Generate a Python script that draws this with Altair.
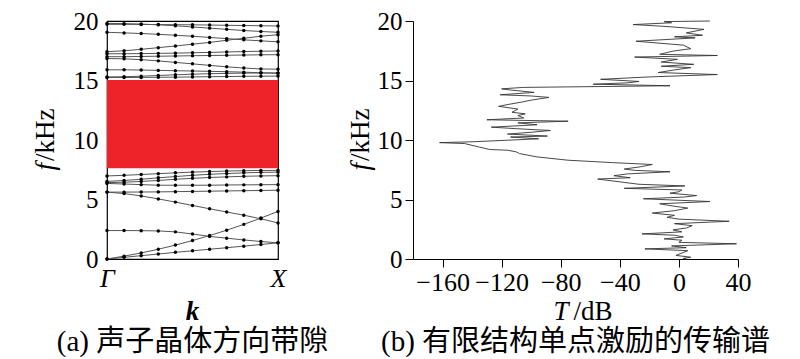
import altair as alt
import pandas as pd

# ---------------- data: (a) band structure ----------------
k_points = [0.0, 0.1, 0.2, 0.3, 0.4, 0.5, 0.6, 0.7, 0.8, 0.9, 1.0]

band_01 = [0.00, 0.14, 0.28, 0.42, 0.56, 0.69, 0.82, 0.95, 1.08, 1.22, 1.36]
band_02 = [0.00, 0.24, 0.51, 0.82, 1.17, 1.55, 1.97, 2.42, 2.91, 3.44, 4.00]
band_03 = [2.39, 2.39, 2.38, 2.36, 2.28, 2.10, 1.90, 1.75, 1.60, 1.47, 1.36]
band_04 = [5.62, 5.50, 5.30, 5.05, 4.78, 4.50, 4.22, 3.95, 3.68, 3.38, 3.03]
band_05 = [5.62, 5.62, 5.63, 5.64, 5.66, 5.68, 5.70, 5.72, 5.74, 5.76, 5.78]
band_06 = [6.35, 6.30, 6.25, 6.20, 6.20, 6.20, 6.20, 6.22, 6.23, 6.24, 6.25]
band_07 = [6.42, 6.45, 6.52, 6.60, 6.70, 6.78, 6.85, 6.90, 6.95, 6.98, 7.00]
band_08 = [6.52, 6.60, 6.70, 6.82, 6.93, 7.03, 7.12, 7.18, 7.24, 7.28, 7.30]
band_09 = [6.98, 7.03, 7.10, 7.17, 7.24, 7.30, 7.35, 7.39, 7.42, 7.44, 7.45]
band_10 = [15.25, 15.25, 15.26, 15.27, 15.28, 15.30, 15.32, 15.33, 15.35, 15.36, 15.37]
band_11 = [15.30, 15.32, 15.36, 15.42, 15.48, 15.53, 15.57, 15.60, 15.62, 15.63, 15.64]
band_12 = [15.90, 15.90, 15.88, 15.85, 15.82, 15.80, 15.77, 15.74, 15.70, 15.65, 15.60]
band_13 = [16.85, 16.82, 16.75, 16.65, 16.52, 16.40, 16.27, 16.15, 16.05, 15.97, 15.95]
band_14 = [17.00, 17.00, 17.02, 17.04, 17.06, 17.08, 17.10, 17.12, 17.14, 17.16, 17.17]
band_15 = [17.25, 17.25, 17.26, 17.28, 17.30, 17.33, 17.36, 17.40, 17.43, 17.46, 17.48]
band_16 = [17.42, 17.50, 17.62, 17.76, 17.90, 18.05, 18.20, 18.38, 18.55, 18.72, 18.85]
band_17 = [19.05, 19.00, 18.95, 18.88, 18.80, 18.72, 18.62, 18.52, 18.42, 18.33, 18.25]
band_18 = [19.72, 19.72, 19.71, 19.70, 19.69, 19.68, 19.66, 19.64, 19.62, 19.60, 19.58]
band_19 = [19.80, 19.78, 19.74, 19.68, 19.60, 19.50, 19.40, 19.30, 19.20, 19.12, 19.05]

bands = [band_01, band_02, band_03, band_04, band_05, band_06, band_07, band_08,
         band_09, band_10, band_11, band_12, band_13, band_14, band_15, band_16,
         band_17, band_18, band_19]

gap_low = 7.62
gap_high = 15.05

k_ticks = [0, 1]
k_labels = ["Γ", "X"]
f_ticks = [0, 5, 10, 15, 20]

# ---------------- data: (b) transmission spectrum ----------------
f_vals = [0.00, 0.05, 0.15, 0.30, 0.50, 0.70, 0.85, 0.95, 1.10, 1.28, 1.40, 1.58, 1.69,
          1.85, 2.00, 2.11, 2.28, 2.45, 2.60, 2.80, 2.97, 3.17, 3.35, 3.50, 3.67, 3.86,
          4.06, 4.28, 4.45, 4.64, 4.83, 5.06, 5.20, 5.33, 5.53, 5.65, 5.80, 5.94, 6.14,
          6.28, 6.45, 6.72, 6.83, 7.00, 7.15, 7.33, 7.45, 7.56, 7.75, 7.94, 8.10, 8.30,
          8.58, 8.86, 9.00, 9.14, 9.20, 9.40, 9.70, 9.78, 9.85, 9.97, 10.10, 10.25,
          10.33, 10.50, 10.65, 10.80, 10.95, 11.08, 11.28, 11.44, 11.58, 11.70, 11.85,
          12.06, 12.20, 12.33, 12.60, 12.83, 13.00, 13.17, 13.35, 13.58, 13.70, 13.80,
          14.00, 14.20, 14.30, 14.42, 14.56, 14.69, 14.80, 14.92, 15.10, 15.30, 15.50,
          15.67, 15.89, 16.08, 16.20, 16.36, 16.55, 16.78, 16.97, 17.10, 17.20, 17.47,
          17.67, 17.97, 18.30, 18.58, 18.67, 18.80, 19.00, 19.30, 19.56, 19.70, 19.85,
          19.95, 20.00]
T_vals = [5, 3, 8, -2, 2, 6, -23, 5, -5, 39, 0, 2, -10,
          3, -3, -25, 2, -4, 5, 9, -3, 34, 0, -8, -3, -18,
          -3, 6, -4, -13, 21, -24, 3, 12, -6, 0, 2, -37, 4,
          -27, -38, -55, -33, -44, -35, -6, -30, -37, -26, -18, -45, -75,
          -96, -108, -110, -116, -128, -135, -145, -162, -140, -118, -95, -114,
          -89, -116, -100, -87, -110, -127, -96, -109, -75, -130, -105,
          -109, -104, -113, -109, -122, -115, -107, -100, -88, -100, -121,
          -98, -114, -120, -105, -6, -58, -35, -27, -53, -20, 26,
          -14, -3, 8, -12, 10, -12, -1, -30, 26, -13, -4,
          8, 3, -29, 11, -3, 16, 5, 17, -11, -31, -5,
          -10, 21]

T_ticks = [-160, -120, -80, -40, 0, 40]

# ---------------- styling ----------------
SERIF = "Liberation Serif"
CAPTION_FONT = "Liberation Serif, Noto Sans CJK SC"
TICK_FS = 25
TITLE_FS = 27
CAP_FS = 29
LW, LH = 171, 238
RW, RH = 325, 238

rows = []
for i, b in enumerate(bands):
    for k, f in zip(k_points, b):
        rows.append({"band": i, "k": k, "f": f})
band_df = pd.DataFrame(rows)
gap_df = pd.DataFrame({"k0": [0.0], "k1": [1.0], "lo": [gap_low], "hi": [gap_high]})
spec_df = pd.DataFrame({"f": f_vals, "T": T_vals})
one = pd.DataFrame({"a": [0]})

xk = alt.X("k:Q", scale=alt.Scale(domain=[0, 1], nice=False),
           axis=alt.Axis(values=k_ticks, title=None, grid=False, domain=False, ticks=False,
                         labelExpr="datum.value == 0 ? 'Γ' : 'X'",
                         labelFont=SERIF, labelFontSize=TICK_FS + 1, labelFontStyle="italic",
                         labelColor="black", labelPadding=6, labelFlush=False))
yf_left = alt.Y("f:Q", scale=alt.Scale(domain=[0, 20], nice=False),
                axis=alt.Axis(values=f_ticks, title=None, grid=False, domain=False, ticks=False,
                              labelFont=SERIF, labelFontSize=TICK_FS, labelColor="black",
                              labelPadding=9, labelFlush=False))

gap = alt.Chart(gap_df).mark_rect(color="#EE2229").encode(
    x=alt.X("k0:Q", scale=alt.Scale(domain=[0, 1], nice=False)), x2="k1:Q",
    y=alt.Y("lo:Q", scale=alt.Scale(domain=[0, 20], nice=False)), y2="hi:Q")
lines = alt.Chart(band_df).mark_line(color="#555555", strokeWidth=1.0).encode(
    x=xk, y=yf_left, detail="band:N")
dots = alt.Chart(band_df).mark_point(filled=True, color="black", size=12, opacity=1).encode(
    x="k:Q", y="f:Q", detail="band:N")


def label(text, x, y, fs, style="normal", weight="normal", angle=0, align="center",
          baseline="alphabetic", font=SERIF):
    return alt.Chart(one).mark_text(text=text, font=font, fontSize=fs, fontStyle=style,
                                    fontWeight=weight, angle=angle, align=align,
                                    baseline=baseline, color="black").encode(
        x=alt.value(x), y=alt.value(y))


def ytitle(x, y_split):
    return [label("f", x, y_split + 1, TITLE_FS, style="italic", angle=270, align="right"),
            label("/kHz", x, y_split - 1, TITLE_FS, angle=270, align="left")]


left = alt.layer(
    gap, lines, dots,
    *ytitle(-53, 141),
    label("k", LW / 2, LH + 61, TITLE_FS, style="italic", weight="bold"),
    label("(a) 声子晶体方向带隙", LW / 2, LH + 92, CAP_FS, font=CAPTION_FONT),
).properties(width=LW, height=LH, view=alt.ViewBackground(stroke="black", strokeWidth=1.2))

spec_line = alt.Chart(spec_df).mark_line(color="#333333", strokeWidth=0.9).encode(
    x=alt.X("T:Q", scale=alt.Scale(domain=[-180, 40], nice=False),
            axis=alt.Axis(values=T_ticks, title=None, grid=False, domainColor="black",
                          tickColor="black", tickSize=8, labelColor="black",
                          labelFont=SERIF, labelFontSize=TICK_FS + 1, labelPadding=2,
                          labelOverlap=False, labelFlush=False,
                          labelExpr="replace(datum.label, '-', '−')")),
    y=alt.Y("f:Q", scale=alt.Scale(domain=[0, 20], nice=False),
            axis=alt.Axis(values=f_ticks, title=None, grid=False, domainColor="black",
                          tickColor="black", tickSize=8, labelColor="black",
                          labelFont=SERIF, labelFontSize=TICK_FS, labelPadding=3,
                          labelFlush=False)),
    order="f:Q")

right = alt.layer(
    spec_line,
    *ytitle(-44, 141),
    label("T", RW / 2 - 7, LH + 61, TITLE_FS, style="italic", align="right"),
    label("/dB", RW / 2 - 2, LH + 61, TITLE_FS, align="left"),
    label("(b) 有限结构单点激励的传输谱", RW / 2, LH + 92, CAP_FS, font=CAPTION_FONT),
).properties(width=RW, height=RH, view=alt.ViewBackground(stroke=None))

chart = alt.hconcat(left, right, spacing=135, bounds="flush").properties(
    padding={"left": 23, "top": 0, "right": 5, "bottom": 0}
).configure_view(strokeWidth=0)

chart.save("out.html", embed_options={"renderer": "svg", "actions": False})
